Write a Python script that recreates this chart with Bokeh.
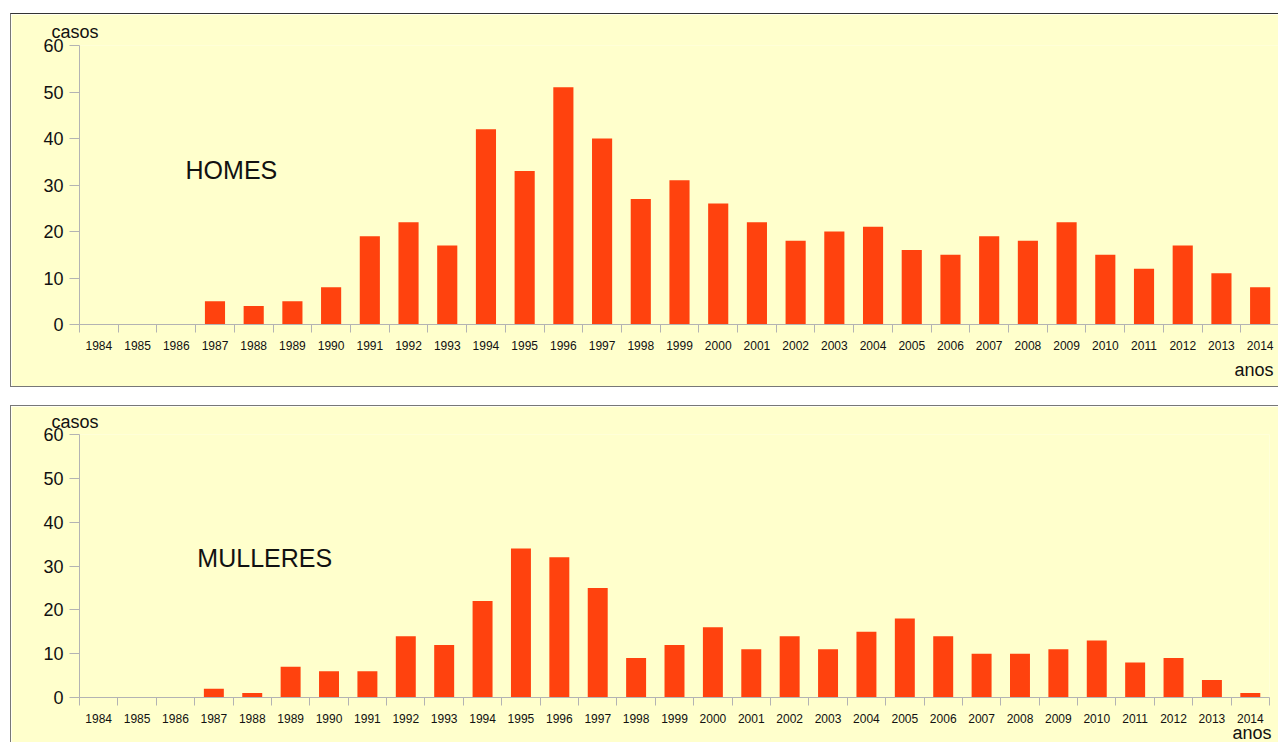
from bokeh.plotting import figure
from bokeh.models import Range1d, FixedTicker, Label, ColumnDataSource, Title
from bokeh.layouts import column
from bokeh.embed import file_html
from bokeh.resources import INLINE

# ---- data ----
years = [1984, 1985, 1986, 1987, 1988, 1989, 1990, 1991, 1992, 1993, 1994,
         1995, 1996, 1997, 1998, 1999, 2000, 2001, 2002, 2003, 2004, 2005,
         2006, 2007, 2008, 2009, 2010, 2011, 2012, 2013, 2014]
homes = [0, 0, 0, 5, 4, 5, 8, 19, 22, 17, 42, 33, 51, 40, 27, 31, 26, 22, 18,
         20, 21, 16, 15, 19, 18, 22, 15, 12, 17, 11, 8]
mulleres = [0, 0, 0, 2, 1, 7, 6, 6, 14, 12, 22, 34, 32, 25, 9, 12, 16, 11, 14,
            11, 15, 18, 14, 10, 10, 11, 13, 8, 9, 4, 1]
y_ticks = [0, 10, 20, 30, 40, 50, 60]
y_title = "casos"
x_title = "anos"
panel_titles = ["HOMES", "MULLERES"]

BG = "#FFFFCC"
BAR = "#FF420E"
AXIS = "#B3B3B3"
TXT = "#111111"
FONT = "Liberation Sans"


def panel(values, name, width, height, mb_left, mb_right, mb_top, mb_bottom,
          casos_standoff, anos_offset, anos_standoff, name_x, name_y, styles, margin):
    p = figure(width=width, height=height,
               x_range=Range1d(years[0] - 0.5, years[-1] + 0.5),
               y_range=Range1d(0, 60),
               output_backend="svg", toolbar_location=None,
               min_border_left=mb_left, min_border_right=mb_right,
               min_border_top=mb_top, min_border_bottom=mb_bottom)
    p.background_fill_color = BG
    p.border_fill_color = BG
    p.outline_line_color = None
    p.grid.visible = False
    p.styles = styles
    p.margin = margin

    src = ColumnDataSource(dict(x=years, top=values))
    p.vbar(x="x", top="top", width=0.52, source=src,
           fill_color=BAR, line_color=None)

    xa = p.xaxis[0]
    xa.ticker = FixedTicker(ticks=years,
                            minor_ticks=[y - 0.5 for y in years] + [years[-1] + 0.5])
    xa.axis_line_color = AXIS
    xa.major_tick_out = 0
    xa.major_tick_in = 0
    xa.minor_tick_out = 8
    xa.minor_tick_in = 0
    xa.minor_tick_line_color = AXIS
    xa.major_label_text_font = FONT
    xa.major_label_text_font_size = "12px"
    xa.major_label_text_color = TXT
    xa.major_label_standoff = 8

    ya = p.yaxis[0]
    ya.ticker = FixedTicker(ticks=y_ticks)
    ya.axis_line_color = AXIS
    ya.major_tick_line_color = AXIS
    ya.major_tick_out = 10
    ya.major_tick_in = 0
    ya.minor_tick_out = 0
    ya.minor_tick_in = 0
    ya.major_label_text_font = FONT
    ya.major_label_text_font_size = "18px"
    ya.major_label_text_color = TXT
    ya.major_label_standoff = 6

    p.add_layout(Title(text=y_title, align="left", offset=-28,
                       standoff=casos_standoff, text_font=FONT,
                       text_font_size="18px", text_font_style="normal",
                       text_color=TXT), "above")
    p.add_layout(Title(text=x_title, align="right", offset=anos_offset,
                       standoff=anos_standoff, text_font=FONT,
                       text_font_size="18px", text_font_style="normal",
                       text_color=TXT), "below")
    p.add_layout(Label(x=name_x, y=name_y, text=name,
                       text_align="left", text_baseline="alphabetic",
                       text_font=FONT, text_font_size="25px", text_color=TXT))
    return p


top = panel(homes, panel_titles[0], 1290, 374, 68, 0, 31, 64,
            8, 6, 10, 1986.24, 33.15,
            {"border-top": "1px solid #333333",
             "border-left": "1px solid #777777",
             "border-bottom": "1px solid #777777"},
            (13, 0, 0, 10))
bottom = panel(mulleres, panel_titles[1], 1268, 337, 66, 10, 28, 46,
               5, -2, -10, 1986.57, 31.8,
               {"border-top": "1px solid #777777",
                "border-left": "1px solid #777777",
                "overflow": "hidden"},
               (18, 0, 0, 10))

layout = column(top, bottom, width=1278, styles={"overflow": "hidden"})
open("out.html", "w").write(file_html(layout, INLINE))
